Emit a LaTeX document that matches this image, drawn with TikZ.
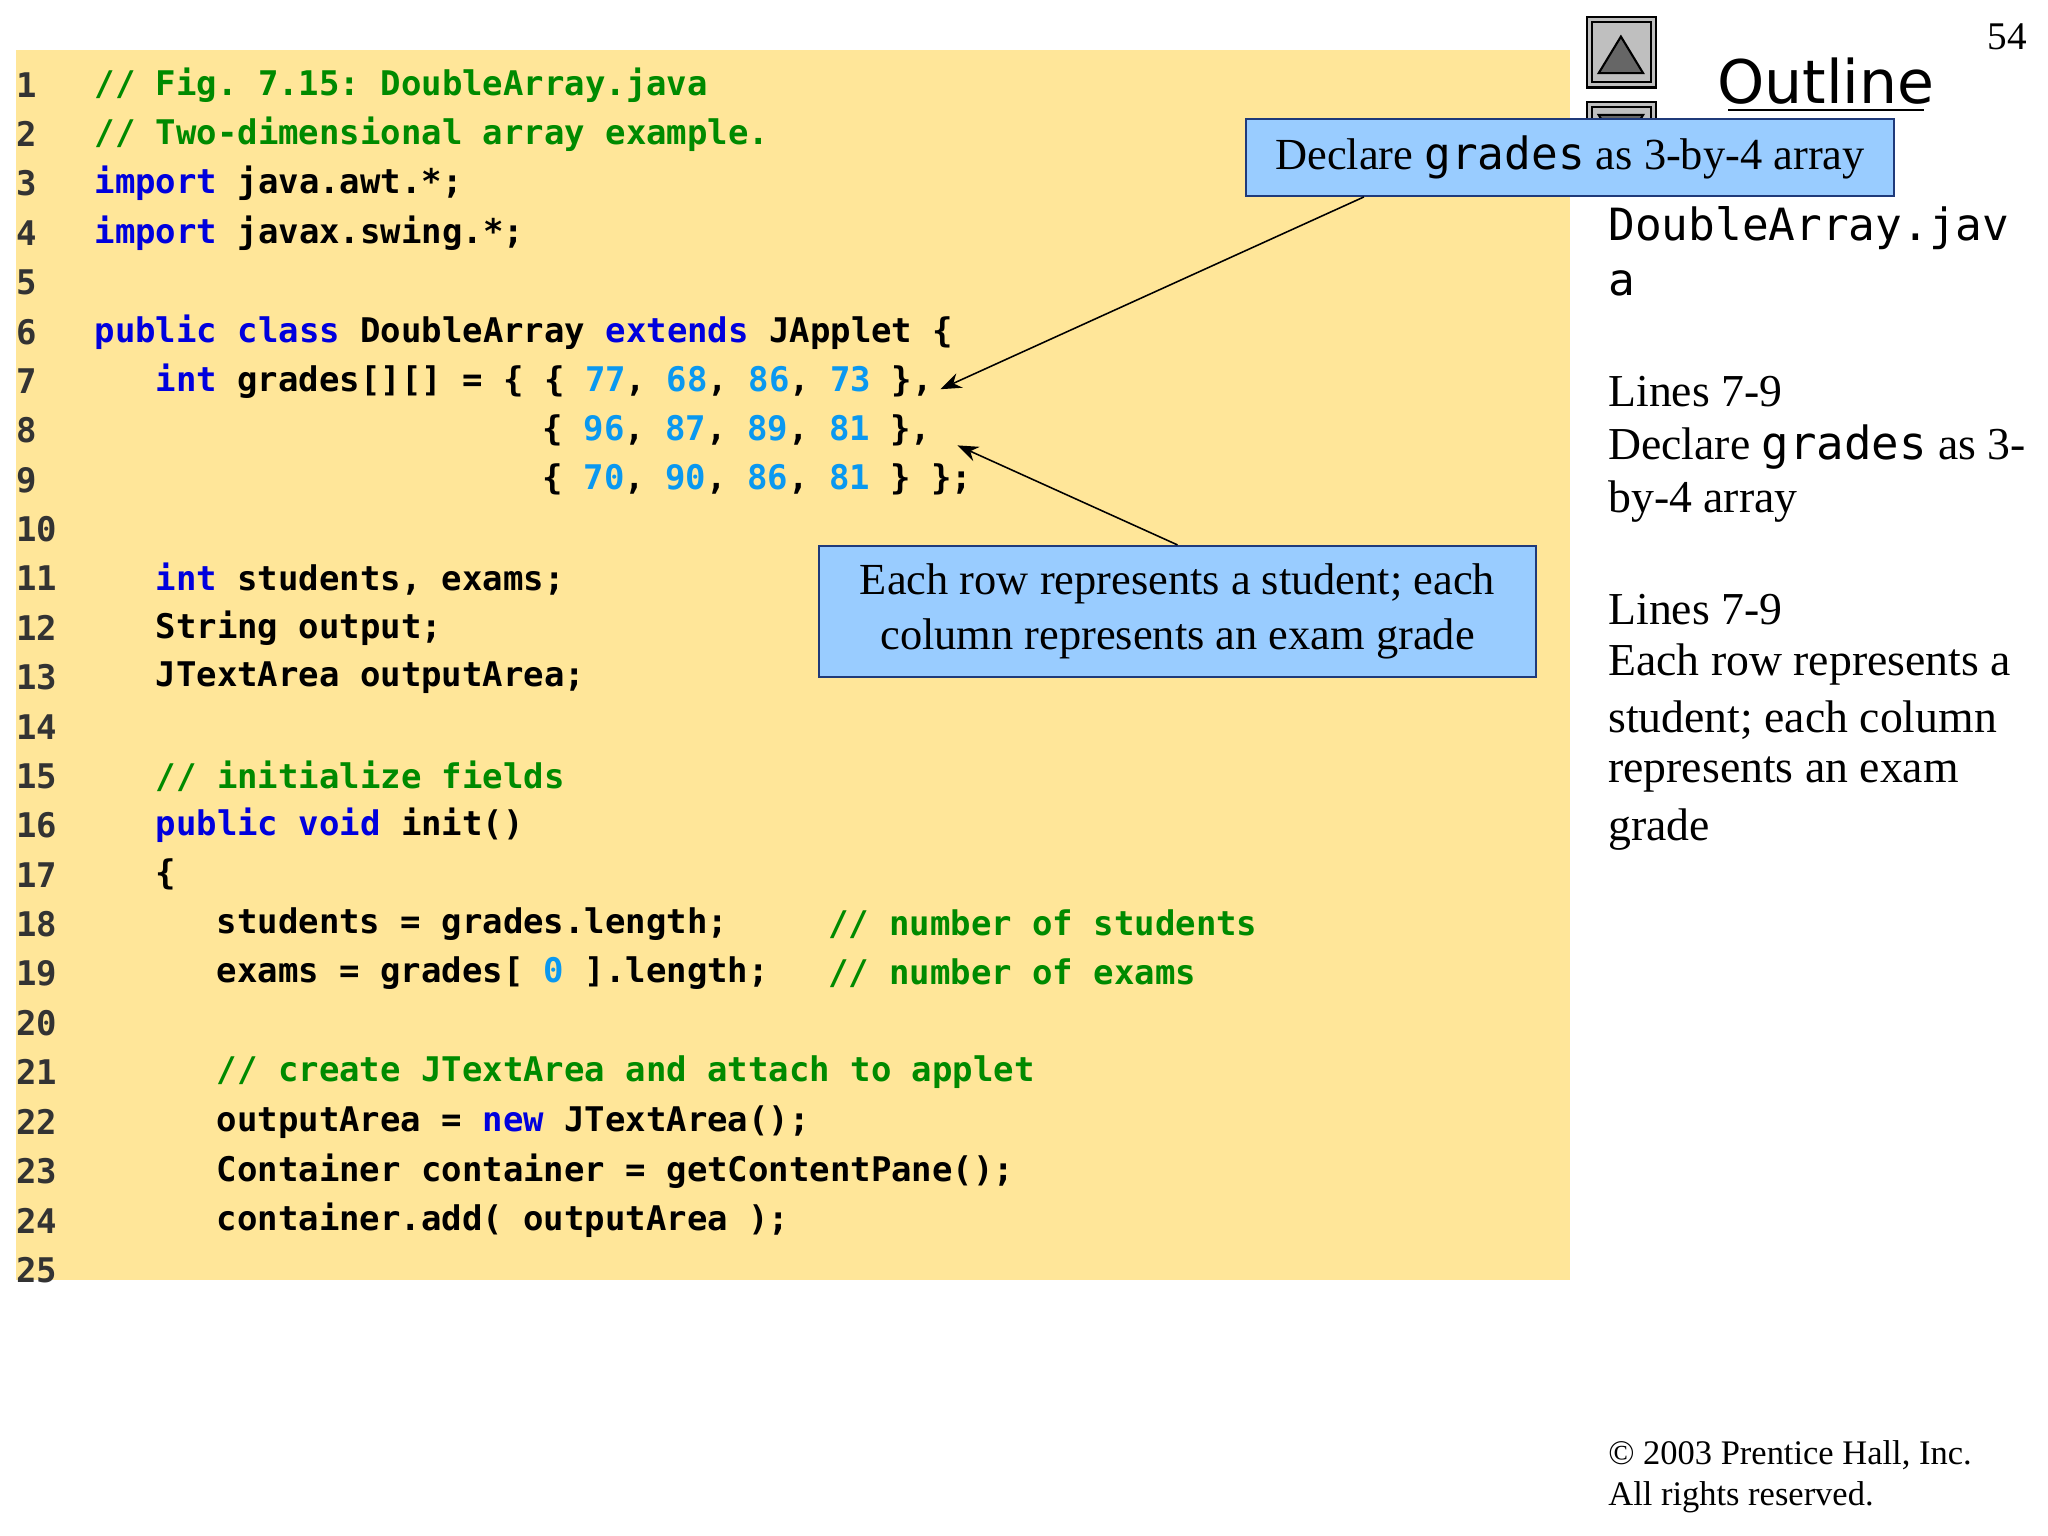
\documentclass[tikz,border=0pt]{standalone}
\usepackage{fontspec}
\setmainfont{Liberation Serif}
\newfontfamily\codefont{DejaVu Sans Mono}
\newfontfamily\outfont{DejaVu Sans}
\usetikzlibrary{arrows.meta}
\frenchspacing
\definecolor{bgy}{HTML}{FFE699}
\definecolor{cgreen}{HTML}{008A00}
\definecolor{ckey}{HTML}{0000DD}
\definecolor{cnum}{HTML}{0A98F0}
\definecolor{callfill}{HTML}{99CCFF}
\definecolor{callline}{HTML}{1F3A7A}
\newcommand{\cm}[1]{\textcolor{cgreen}{#1}}
\newcommand{\kw}[1]{\textcolor{ckey}{#1}}
\newcommand{\nm}[1]{\textcolor{cnum}{#1}}
\begin{document}
\begin{tikzpicture}[x=0.5pt,y=-0.5pt,
  code/.style={anchor=west,inner sep=0pt,font=\frenchspacing\codefont\bfseries\fontsize{13}{15}\selectfont},
  lnum/.style={anchor=west,inner sep=0pt,text=black!80,font=\codefont\bfseries\fontsize{13}{15}\selectfont},
  callout/.style={draw=callline,fill=callfill,line width=0.8pt,inner sep=0pt,font=\fontsize{17}{21}\selectfont,align=center},
  side/.style={anchor=west,inner sep=0pt,font=\fontsize{17.5}{21}\selectfont},
  arr/.style={-{Stealth[length=8pt,width=6pt]},line width=0.6pt}]
\useasboundingbox (0,0) rectangle (1568,1176);
\fill[white] (0,0) rectangle (1568,1176);
\fill[bgy] (12,38) rectangle (1202,980);
\foreach \i in {1,...,25}{\node[lnum] (n\i) at (12,{65+(\i-1)*37.8}) {\i};}
\def\cx#1{{72+#1*15.6}}
\def\ly#1{{65+(#1-1)*37.8}}
\node[code] (l1) at (\cx0,\ly1) {\cm{// Fig. 7.15: DoubleArray.java}};
\node[code] (l2) at (\cx0,\ly2) {\cm{// Two-dimensional array example.}};
\node[code] (l3) at (\cx0,\ly3) {\kw{import} java.awt.*;};
\node[code] (l4) at (\cx0,\ly4) {\kw{import} javax.swing.*;};
\node[code] (l6) at (\cx0,\ly6) {\kw{public} \kw{class} DoubleArray \kw{extends} JApplet \{};
\node[code] (l7) at (\cx3,\ly7) {\kw{int} grades[][] = \{ \{ \nm{77}, \nm{68}, \nm{86}, \nm{73} \},};
\node[code] (l8) at (\cx{22},\ly8) {\{ \nm{96}, \nm{87}, \nm{89}, \nm{81} \},};
\node[code] (l9) at (\cx{22},\ly9) {\{ \nm{70}, \nm{90}, \nm{86}, \nm{81} \} \};};
\node[code] (l11) at (\cx3,\ly{11}) {\kw{int} students, exams;};
\node[code] (l12) at (\cx3,\ly{12}) {String output;};
\node[code] (l13) at (\cx3,\ly{13}) {JTextArea outputArea;};
\node[code] (l15) at (\cx3,\ly{15}) {\cm{// initialize fields}};
\node[code] (l16) at (\cx3,\ly{16}) {\kw{public} \kw{void} init()};
\node[code] (l17) at (\cx3,\ly{17}) {\{};
\node[code] (l18) at (\cx6,\ly{18}) {students = grades.length;};
\node[code] (c18) at (\cx{36},\ly{18}) {\cm{// number of students}};
\node[code] (l19) at (\cx6,\ly{19}) {exams = grades[ \nm{0} ].length;};
\node[code] (c19) at (\cx{36},\ly{19}) {\cm{// number of exams}};
\node[code] (l21) at (\cx6,\ly{21}) {\cm{// create JTextArea and attach to applet}};
\node[code] (l22) at (\cx6,\ly{22}) {outputArea = \kw{new} JTextArea();};
\node[code] (l23) at (\cx6,\ly{23}) {Container container = getContentPane();};
\node[code] (l24) at (\cx6,\ly{24}) {container.add( outputArea );};
% icons
\begin{scope}[line width=0.8pt]
\draw[fill=black!25] (1215,13) rectangle (1268,67);
\draw (1219,17) rectangle (1264,63);
\draw[fill=black!60] (1241,28) -- (1258,56) -- (1224,56) -- cycle;
\draw[fill=black!25] (1215,78) rectangle (1268,132);
\draw (1219,82) rectangle (1264,128);
\draw[fill=black!60] (1224,88) -- (1258,88) -- (1241,116) -- cycle;
\end{scope}
\node[anchor=east,inner sep=0pt,font=\fontsize{15}{18}\selectfont] (pg) at (1552,28) {54};
\node[inner sep=0pt,font=\outfont\fontsize{23}{28}\selectfont] (outl) at (1398,62) {Outline};
\draw[line width=0.9pt] (1323,84) -- (1473,84);
% callouts
\node[callout,minimum width=248pt,minimum height=29.5pt] (c1) at (1202,120.5) {Declare {\codefont\fontsize{17}{21}\selectfont grades} as 3-by-4 array};
\node[callout,minimum width=274.5pt,minimum height=50pt] (c2) at (901.5,468) {Each row represents a student; each\\column represents an exam grade};
\coordinate (t1) at (720,298);
\coordinate (t2) at (733,341);
\draw[arr] (c1.south west) ++(91,0) -- (t1);
\draw[arr] (c2.north) -- (t2);
% side text
\node[side,font=\codefont\fontsize{17}{21}\selectfont] (s0) at (1231,175) {DoubleArray.jav};
\node[side,font=\codefont\fontsize{17}{21}\selectfont] (s0b) at (1231,217) {a};
\node[side] (s1) at (1231,300) {Lines 7-9};
\node[side] (s2) at (1231,342) {Declare {\codefont grades} as 3-};
\node[side] (s3) at (1231,384) {by-4 array};
\node[side] (s4) at (1231,467) {Lines 7-9};
\node[side] (s5) at (1231,509) {Each row represents a};
\node[side] (s6) at (1231,551) {student; each column};
\node[side] (s7) at (1231,593) {represents an exam};
\node[side] (s8) at (1231,635) {grade};
\node[side,font=\fontsize{13.2}{17}\selectfont] (cp1) at (1231,1114) {\textcopyright{} 2003 Prentice Hall, Inc.};
\node[side,font=\fontsize{13.2}{17}\selectfont] (cp2) at (1231,1146) {All rights reserved.};
\end{tikzpicture}
\end{document}
